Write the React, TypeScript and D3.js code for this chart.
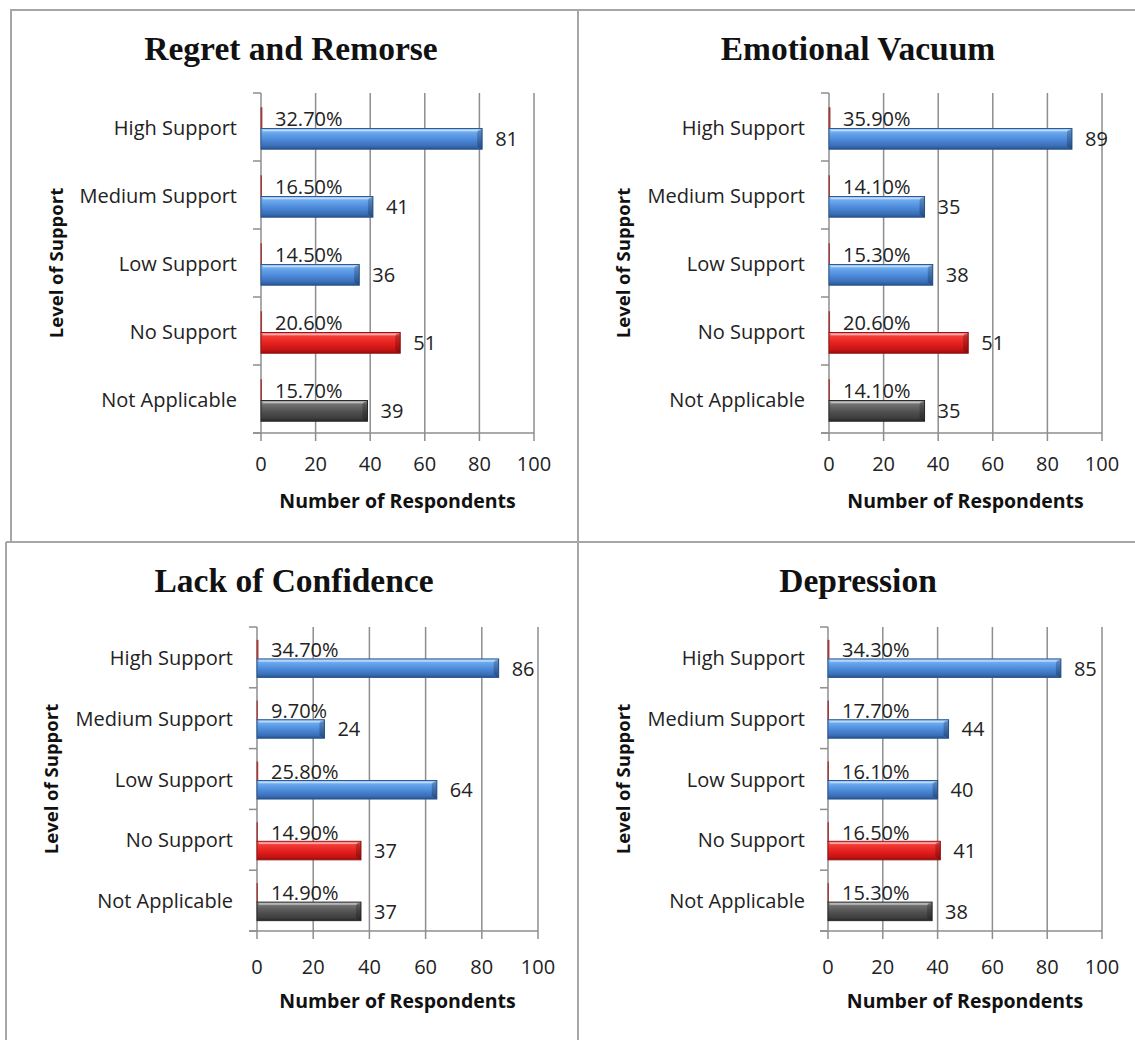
import React from "react";
import * as d3 from "d3";

const categories = ["High Support", "Medium Support", "Low Support", "No Support", "Not Applicable"];
const panelTitles = ["Regret and Remorse", "Emotional Vacuum", "Lack of Confidence", "Depression"];
const regretCounts = [81, 41, 36, 51, 39];
const regretPct = [32.7, 16.5, 14.5, 20.6, 15.7];
const vacuumCounts = [89, 35, 38, 51, 35];
const vacuumPct = [35.9, 14.1, 15.3, 20.6, 14.1];
const confidenceCounts = [86, 24, 64, 37, 37];
const confidencePct = [34.7, 9.7, 25.8, 14.9, 14.9];
const depressionCounts = [85, 44, 40, 41, 38];
const depressionPct = [34.3, 17.7, 16.1, 16.5, 15.3];
const xTicks = [0, 20, 40, 60, 80, 100];
const xTitle = "Number of Respondents";
const yTitle = "Level of Support";

const countSeries = [regretCounts, vacuumCounts, confidenceCounts, depressionCounts];
const pctSeries = [regretPct, vacuumPct, confidencePct, depressionPct];

// layout per panel
const layouts = [
  { x0: 261, x1: 534, yTop: 93, yBot: 433, labelRight: 237, yTitleX: 55, titleX: 291, titleY: 48, tickY: 463, xTitleY: 500 },
  { x0: 829, x1: 1102, yTop: 93, yBot: 433, labelRight: 805, yTitleX: 622, titleX: 858, titleY: 48, tickY: 463, xTitleY: 500 },
  { x0: 257, x1: 538, yTop: 627, yBot: 931, labelRight: 233, yTitleX: 50, titleX: 294, titleY: 580, tickY: 966, xTitleY: 1000 },
  { x0: 828, x1: 1102, yTop: 627, yBot: 931, labelRight: 805, yTitleX: 622, titleX: 858, titleY: 580, tickY: 966, xTitleY: 1000 },
];

const SANS = "'Open Sans', sans-serif";
const SERIF = "'Liberation Serif', 'Times New Roman', serif";
const AXIS = "#8e8e8e";
const FRAME = "#a6a6a6";

function fillFor(cat: string) {
  if (cat === "No Support") return "url(#gRed)";
  if (cat === "Not Applicable") return "url(#gGray)";
  return "url(#gBlue)";
}
function strokeFor(cat: string) {
  if (cat === "No Support") return "#9c1212";
  if (cat === "Not Applicable") return "#2a2a2a";
  return "#2d5a93";
}

function Panel({ idx }: { idx: number }) {
  const L = layouts[idx];
  const counts = countSeries[idx];
  const pcts = pctSeries[idx];
  const x = d3.scaleLinear().domain([0, 100]).range([L.x0, L.x1]);
  const y = d3.scaleBand<string>().domain(categories).range([L.yTop, L.yBot]).paddingInner(0).paddingOuter(0);
  const bw = y.bandwidth();
  const inner = d3.scaleBand<string>().domain(["pct", "count"]).range([0, bw]).paddingOuter(0.64).paddingInner(0);
  const barH = inner.bandwidth();
  const shift = 1.5;
  const boundaries = categories.map((c) => y(c)!).concat([L.yBot]);
  const yMid = (L.yTop + L.yBot) / 2;
  return (
    <g>
      <text x={L.titleX} y={L.titleY} textAnchor="middle" dominantBaseline="central" fontFamily={SERIF} fontWeight="bold" fontSize={33.5} fill="#111">
        {panelTitles[idx]}
      </text>
      {/* gridlines */}
      {xTicks.filter((t) => t > 0).map((t) => (
        <line key={"g" + t} x1={x(t)} x2={x(t)} y1={L.yTop} y2={L.yBot} stroke={AXIS} strokeWidth={1.5} />
      ))}
      {/* y axis */}
      <line x1={L.x0} x2={L.x0} y1={L.yTop} y2={L.yBot} stroke={AXIS} strokeWidth={1.5} />
      {boundaries.map((b, i) => (
        <line key={"yt" + i} x1={L.x0 - 8} x2={L.x0} y1={b} y2={b} stroke={AXIS} strokeWidth={1.5} />
      ))}
      {/* x axis */}
      <line x1={L.x0 - 8} x2={L.x1} y1={L.yBot} y2={L.yBot} stroke={AXIS} strokeWidth={1.5} />
      {xTicks.map((t) => (
        <line key={"xt" + t} x1={x(t)} x2={x(t)} y1={L.yBot} y2={L.yBot + 8} stroke={AXIS} strokeWidth={1.5} />
      ))}
      {xTicks.map((t) => (
        <text key={"xl" + t} x={x(t)} y={L.tickY} textAnchor="middle" dominantBaseline="central" fontFamily={SANS} fontSize={20} fill="#222">
          {t}
        </text>
      ))}
      <text x={(L.x0 + L.x1) / 2} y={L.xTitleY} textAnchor="middle" dominantBaseline="central" fontFamily={SANS} fontWeight="bold" fontSize={19.5} fill="#111">
        {xTitle}
      </text>
      <text transform={`translate(${L.yTitleX},${yMid}) rotate(-90)`} textAnchor="middle" dominantBaseline="central" fontFamily={SANS} fontWeight="bold" fontSize={18.5} fill="#111">
        {yTitle}
      </text>
      {categories.map((c, i) => {
        const b = y(c)! + shift;
        const pY = b + inner("pct")!;
        const cY = b + inner("count")!;
        const pW = x(pcts[i] / 100) - x(0);
        const cW = x(counts[i]) - x(0);
        const xEnd = x(counts[i]);
        return (
          <g key={c}>
            <text x={L.labelRight} y={y(c)! + bw / 2} textAnchor="end" dominantBaseline="central" fontFamily={SANS} fontSize={20} fill="#222">
              {c}
            </text>
            <rect x={x(0)} y={pY} width={pW} height={barH} fill="#a33a3a" stroke="#a33a3a" strokeWidth={1} />
            <text x={x(0) + 14} y={pY + barH / 2} dominantBaseline="central" fontFamily={SANS} fontSize={20} fill="#222">
              {pcts[i].toFixed(2) + "%"}
            </text>
            <rect x={x(0)} y={cY} width={cW} height={barH} fill={fillFor(c)} stroke={strokeFor(c)} strokeWidth={1} />
            <line x1={x(0) + 2} x2={xEnd - 4} y1={cY + 2} y2={cY + 2} stroke="rgba(255,255,255,0.45)" strokeWidth={1.5} />
            <path d={`M${xEnd - 5},${cY + 3} L${xEnd},${cY} L${xEnd},${cY + barH} L${xEnd - 5},${cY + barH - 3} Z`} fill="rgba(0,0,0,0.22)" />
            <text x={xEnd + 13} y={cY + barH / 2} dominantBaseline="central" fontFamily={SANS} fontSize={20} fill="#222">
              {counts[i]}
            </text>
          </g>
        );
      })}
    </g>
  );
}

export default function App() {
  return (
    <div style={{ position: "absolute", left: 0, top: 0, width: 1135, height: 1040, background: "#fff" }}>
      <svg width={1135} height={1040} viewBox="0 0 1135 1040" style={{ display: "block" }}>
        <defs>
          <linearGradient id="gBlue" x1="0" y1="0" x2="0" y2="1">
            <stop offset="0%" stopColor="#a3cdf7" />
            <stop offset="20%" stopColor="#6aa8ee" />
            <stop offset="55%" stopColor="#4b88d8" />
            <stop offset="85%" stopColor="#3a6db6" />
            <stop offset="100%" stopColor="#27528c" />
          </linearGradient>
          <linearGradient id="gRed" x1="0" y1="0" x2="0" y2="1">
            <stop offset="0%" stopColor="#ff8a8a" />
            <stop offset="20%" stopColor="#f23a36" />
            <stop offset="55%" stopColor="#e31f1b" />
            <stop offset="85%" stopColor="#c41414" />
            <stop offset="100%" stopColor="#8f0c0c" />
          </linearGradient>
          <linearGradient id="gGray" x1="0" y1="0" x2="0" y2="1">
            <stop offset="0%" stopColor="#a8a8a8" />
            <stop offset="20%" stopColor="#6e6e6e" />
            <stop offset="55%" stopColor="#505050" />
            <stop offset="85%" stopColor="#3e3e3e" />
            <stop offset="100%" stopColor="#262626" />
          </linearGradient>
        </defs>
        {/* frame */}
        <line x1={10} x2={1135} y1={10} y2={10} stroke={FRAME} strokeWidth={2} />
        <line x1={11} x2={11} y1={10} y2={542} stroke={FRAME} strokeWidth={2} />
        <line x1={578} x2={578} y1={10} y2={1040} stroke={FRAME} strokeWidth={2} />
        <line x1={6} x2={1135} y1={542} y2={542} stroke={FRAME} strokeWidth={2} />
        <line x1={6} x2={6} y1={542} y2={1040} stroke={FRAME} strokeWidth={2} />
        {[0, 1, 2, 3].map((i) => (
          <Panel key={i} idx={i} />
        ))}
      </svg>
    </div>
  );
}
